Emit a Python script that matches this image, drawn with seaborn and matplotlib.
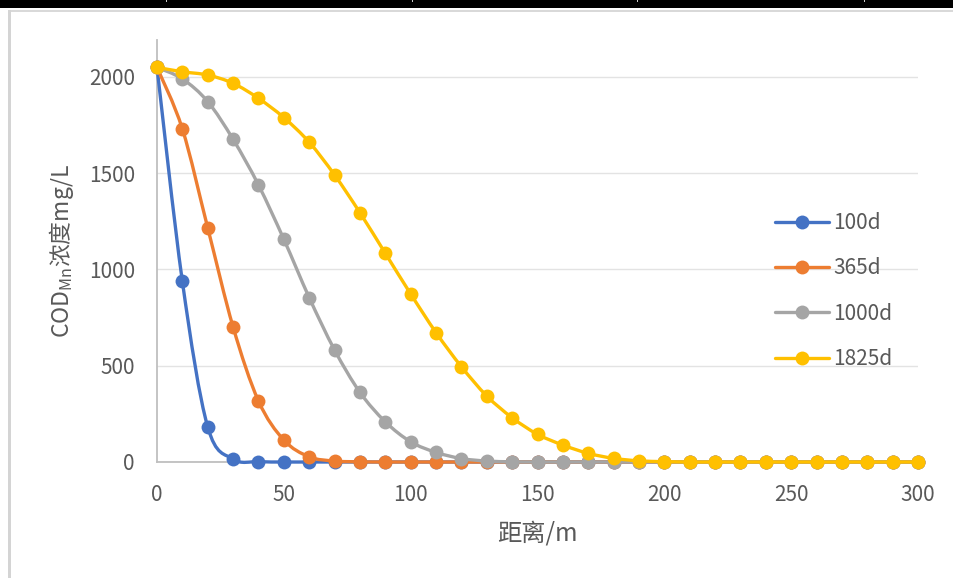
import matplotlib
matplotlib.use("Agg")
import matplotlib.pyplot as plt
import seaborn as sns
import pandas as pd
import numpy as np
from matplotlib.lines import Line2D
from matplotlib.patches import PathPatch, Rectangle
from matplotlib.path import Path
from matplotlib.transforms import IdentityTransform

# ---- data ----
distance = [0, 10, 20, 30, 40, 50, 60, 70, 80, 90, 100, 110, 120, 130, 140, 150,
            160, 170, 180, 190, 200, 210, 220, 230, 240, 250, 260, 270, 280, 290, 300]
c_100d = [2050, 938, 182, 15, 2, 0, 0, 0, 0, 0, 0, 0, 0, 0, 0, 0,
          0, 0, 0, 0, 0, 0, 0, 0, 0, 0, 0, 0, 0, 0, 0]
c_365d = [2050, 1730, 1216, 701, 317, 114, 27, 5, 1, 0, 0, 0, 0, 0, 0, 0,
          0, 0, 0, 0, 0, 0, 0, 0, 0, 0, 0, 0, 0, 0, 0]
c_1000d = [2050, 1990, 1872, 1676, 1439, 1157, 854, 582, 362, 209, 105, 50, 18, 5, 1, 0,
           0, 0, 0, 0, 0, 0, 0, 0, 0, 0, 0, 0, 0, 0, 0]
c_1825d = [2050, 2027, 2010, 1967, 1889, 1789, 1661, 1491, 1295, 1084, 873, 672, 495, 343, 230, 144,
           88, 45, 19, 6, 2, 0, 0, 0, 0, 0, 0, 0, 0, 0, 0]
series_names = ["100d", "365d", "1000d", "1825d"]
series_values = [c_100d, c_365d, c_1000d, c_1825d]
colors = ["#4472C4", "#ED7D31", "#A5A5A5", "#FFC000"]
x_ticks = [0, 50, 100, 150, 200, 250, 300]
y_ticks = [0, 500, 1000, 1500, 2000]
x_label = "距离/m"
y_label = r"COD$_{\mathrm{Mn}}$浓度mg/L"

rows = []
for name, vals in zip(series_names, series_values):
    for d, v in zip(distance, vals):
        rows.append({"distance": d, "conc": v, "series": name})
df = pd.DataFrame(rows)

# ---- style ----
sns.set_theme(style="white")
plt.rcParams["font.family"] = ["Noto Sans CJK SC", "DejaVu Sans"]
plt.rcParams["mathtext.fontset"] = "custom"
plt.rcParams["mathtext.rm"] = "Noto Sans CJK SC"
plt.rcParams["mathtext.it"] = "Noto Sans CJK SC"
plt.rcParams["axes.unicode_minus"] = False

TXT = "#595959"
LW = 2.4
W, H = 954, 578
fig = plt.figure(figsize=(W / 100, H / 100), dpi=100)
fig.patch.set_facecolor("white")
ax = fig.add_axes([157 / W, 1 - 462 / H, (918 - 157) / W, (462 - 40) / H])

palette = dict(zip(series_names, colors))
sns.lineplot(data=df, x="distance", y="conc", hue="series", hue_order=series_names,
             palette=palette, marker="o", markersize=10, markeredgewidth=0,
             linewidth=LW, sort=False, legend=False, ax=ax, clip_on=False)

# smooth (Excel-style) connecting curves through the plotted points
for i, (line, c) in enumerate(zip(ax.lines, colors)):
    xy = line.get_xydata()
    n = len(xy)
    verts = [xy[0]]
    codes = [Path.MOVETO]
    for k in range(n - 1):
        p0 = xy[k - 1] if k > 0 else xy[k]
        p1 = xy[k]
        p2 = xy[k + 1]
        p3 = xy[k + 2] if k + 2 < n else xy[k + 1]
        verts += [p1 + (p2 - p0) / 6.0, p2 - (p3 - p1) / 6.0, p2]
        codes += [Path.CURVE4] * 3
    patch = PathPatch(Path(verts, codes), fill=False, edgecolor=c, linewidth=LW,
                      clip_on=False, zorder=2 + 2 * i, capstyle="round", joinstyle="round")
    ax.add_patch(patch)
    line.set_linestyle("none")
    line.set_zorder(3 + 2 * i)

ax.set_xlim(0, 300)
ax.set_ylim(0, 2192)
ax.set_xticks(x_ticks)
ax.set_yticks(y_ticks)
ax.set_xticklabels([str(t) for t in x_ticks])
ax.set_yticklabels([str(t) for t in y_ticks])
ax.tick_params(axis="both", length=0, labelsize=15, labelcolor=TXT)
ax.tick_params(axis="y", pad=16)
ax.tick_params(axis="x", pad=16)
ax.yaxis.grid(True, color="#E3E3E3", linewidth=1.0)
ax.xaxis.grid(False)
ax.set_axisbelow(True)
for s in ["top", "right"]:
    ax.spines[s].set_visible(False)
for s in ["left", "bottom"]:
    ax.spines[s].set_color("#BFBFBF")
    ax.spines[s].set_linewidth(1.3)
    ax.spines[s].set_zorder(1.5)

ax.set_xlabel(x_label, fontsize=17.5, color=TXT, labelpad=10)
ax.set_ylabel("")
fig.text(62 / W, 1 - 251 / H, y_label, rotation=90, ha="center", va="center",
         rotation_mode="anchor", fontsize=16.5, color=TXT)

handles = [Line2D([0], [0], color=c, linewidth=LW, marker="o", markersize=10,
                  markeredgewidth=0) for c in colors]
ax.legend(handles, series_names, loc="center left", bbox_to_anchor=(775 / W, 1 - 291 / H),
          bbox_transform=fig.transFigure, frameon=False, fontsize=15,
          labelcolor=TXT, handlelength=2.6, handletextpad=0.2, labelspacing=1.12,
          borderpad=0, borderaxespad=0)

# ---- surrounding page decoration (pixel coordinates, origin bottom-left) ----
fig.add_artist(Rectangle((0, H - 7.5), W, 7.5, transform=IdentityTransform(),
                         facecolor="black", edgecolor="none", zorder=10))
for xp in [166, 412, 637, 864]:
    fig.add_artist(Rectangle((xp - 0.5, H - 1.5), 1.2, 1.5, transform=IdentityTransform(),
                             facecolor="#CCCCCC", edgecolor="none", zorder=11))
fig.add_artist(Rectangle((8, H - 12), W - 8, 2, transform=IdentityTransform(),
                         facecolor="#D9D9D9", edgecolor="none", zorder=10))
fig.add_artist(Rectangle((8, 0), 2.5, H - 10, transform=IdentityTransform(),
                         facecolor="#D4D4D4", edgecolor="none", zorder=10))

fig.savefig("out.png", dpi=100)
